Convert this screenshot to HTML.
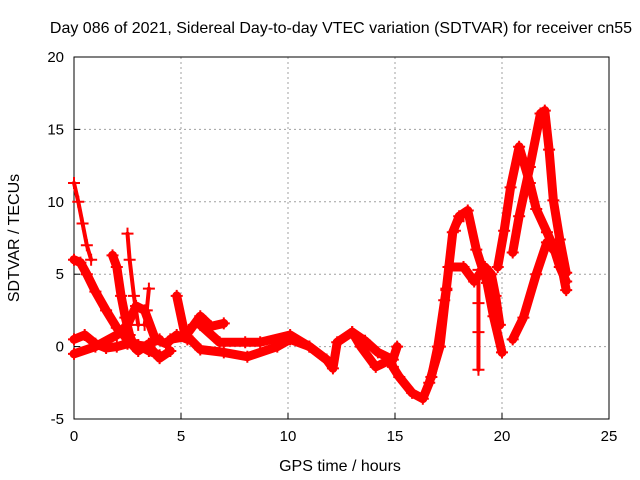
<!DOCTYPE html>
<html><head><meta charset="utf-8"><style>
body{margin:0;background:#fff}
svg{display:block;font-family:"Liberation Sans",sans-serif}
</style></head><body>
<svg id="chart" width="640" height="480" viewBox="0 0 640 480">
<text x="341" y="33" font-size="16" text-anchor="middle">Day 086 of 2021, Sidereal Day-to-day VTEC variation (SDTVAR) for receiver cn55</text>
<g id="grid"></g>
<g id="axes"></g>
<g id="marks"></g>
<text x="340" y="471" font-size="16" text-anchor="middle">GPS time / hours</text>
<text transform="translate(19,238) rotate(-90)" font-size="16" text-anchor="middle">SDTVAR / TECUs</text>
</svg>
<script>
const xTicks=[0,5,10,15,20,25];
const yTicks=[-5,0,5,10,15,20];
const track1=[[0,11.3],[0.2,10],[0.4,8.5],[0.6,7],[0.8,6]];
const track2=[[0,6],[0.3,5.8],[0.6,5],[1,3.8],[1.5,2.5],[2,1.3],[2.5,0.5],[3,0.1],[3.5,-0.3],[4,-0.6]];
const track3=[[0,-0.5],[1,0],[2,0.8],[2.5,1.5],[2.9,2.8],[3.3,2.5],[3.8,0.5],[4.3,0.2],[4.8,0.8],[5.3,0.5]];
const track4=[[1.8,6.3],[2,5.5],[2.2,3.5],[2.4,2],[2.6,0.8],[2.8,0],[3,-0.3],[3.5,0.2],[4,0.5]];
const track5=[[2.5,7.8],[2.6,6],[2.8,3.5],[3,1.5]];
const track6=[[3.5,4],[3.4,2.5],[3.3,1.5]];
const track7=[[0,0.5],[0.5,0.8],[1,0.2],[1.5,-0.1],[2,0],[2.5,0.2],[3,0.1],[3.5,0],[4,-0.8],[4.5,-0.3]];
const track8=[[4.8,3.5],[5.2,0.7],[5.6,1.5],[5.9,2.1],[6.4,1.4],[7,1.6]];
const track9=[[4.5,0.5],[5.3,0.7],[5.9,-0.2],[7,-0.4],[8.1,-0.7],[9.5,0],[10.1,0.5],[11,0],[11.8,-0.9]];
const track10=[[5.9,1.5],[6.8,0.3],[8,0.3],[8.7,0.3],[10.1,0.8],[11,0],[11.8,-0.9],[12.1,-1.5],[12.3,0.3],[13,1],[13.4,0],[14.1,-1.4],[14.8,-0.9],[14.9,-1.4],[15.2,-2.1],[15.8,-3.2],[16.3,-3.6],[16.6,-2.5],[17.1,0],[17.4,3.9]];
const track11=[[13,1],[13.6,0.4],[14.2,-0.4],[14.9,-0.9],[15.1,0]];
const track12=[[16.7,-2.1],[17,0],[17.4,4],[17.7,7.9],[18,9],[18.4,9.4],[18.8,6.7],[19.3,4.4],[19.6,2.1],[20,-0.4]];
const track13=[[17.3,3.2],[17.5,5.5],[17.8,8],[18.2,9]];
const track14=[[18.9,5.3],[18.9,3],[18.9,1],[18.9,-1.6]];
const track15=[[17.5,5.5],[18.2,5.5],[18.7,4.5],[19.2,5.5],[19.5,5],[19.7,3.5],[19.9,1.5]];
const track16=[[20.5,0.5],[21,2],[21.6,5],[22.1,7.2],[22.7,6.2],[23,3.9]];
const track17=[[19.8,5.5],[20.1,8],[20.4,11],[20.8,13.8],[21.3,11.3],[21.6,9.5],[22.1,7.9],[22.4,6.9],[22.7,5.5],[23,4.5]];
const track18=[[20.5,6.5],[20.8,9],[21.3,12.4],[21.8,16.1],[22,16.3],[22.2,13.6],[22.4,10.1],[22.7,7.4],[23,5.1]];
const tracks=[track1,track2,track3,track4,track5,track6,track7,track8,track9,track10,track11,track12,track13,track14,track15,track16,track17,track18];
const sparse=[0,4,5,12,13];

const X0=74,X1=609,Y0=419,Y1=57;
const sx=h=>X0+(h-0)/(25-0)*(X1-X0);
const sy=v=>Y0-(v+5)/(25)*(Y0-Y1);
const NS="http://www.w3.org/2000/svg";
function mk(tag,attrs,parent){const e=document.createElementNS(NS,tag);for(const k in attrs)e.setAttribute(k,attrs[k]);parent.appendChild(e);return e;}
const grid=document.getElementById('grid'),axes=document.getElementById('axes'),marks=document.getElementById('marks');
xTicks.forEach(t=>{
  if(t>0&&t<25){const l=mk('line',{x1:sx(t),x2:sx(t),y1:Y1,y2:Y0,stroke:'#a0a0a0','stroke-dasharray':'2,3'},grid);
  
  }
  const tk=mk('line',{x1:sx(t),x2:sx(t),y1:Y0,y2:Y0-6,stroke:'#000'},axes);
  
  
  const tx=mk('text',{x:sx(t),y:Y0+22,'font-size':15,'text-anchor':'middle'},axes);tx.textContent=t;
  
  
});
yTicks.forEach(t=>{
  if(t>-5&&t<20){const l=mk('line',{x1:X0,x2:X1,y1:sy(t),y2:sy(t),stroke:'#a0a0a0','stroke-dasharray':'2,3'},grid);
  
  }
  const tk=mk('line',{x1:X0,x2:X0+6,y1:sy(t),y2:sy(t),stroke:'#000'},axes);
  
  
  const tx=mk('text',{x:X0-10,y:sy(t)+5,'font-size':15,'text-anchor':'end'},axes);tx.textContent=t;
  
  
});
const fr=mk('rect',{x:X0,y:Y1,width:X1-X0,height:Y0-Y1,fill:'none',stroke:'#000'},axes);


tracks.forEach((tr,i)=>{
  const isS=sparse.includes(i);
  const pl=mk('polyline',{points:tr.map(p=>sx(p[0])+','+sy(p[1])).join(' '),fill:'none',stroke:'#ff0000','stroke-width':isS?4:9,'stroke-linejoin':'round','stroke-linecap':'round'},marks);
  
  
  tr.forEach(p=>{
    const x=sx(p[0]),y=sy(p[1]);
    const m=mk('path',{d:`M${x-6},${y}H${x+6}M${x},${y-6}V${y+6}`,stroke:'#ff0000','stroke-width':2},marks);
    
    
  });
});
</script>
</body></html>
